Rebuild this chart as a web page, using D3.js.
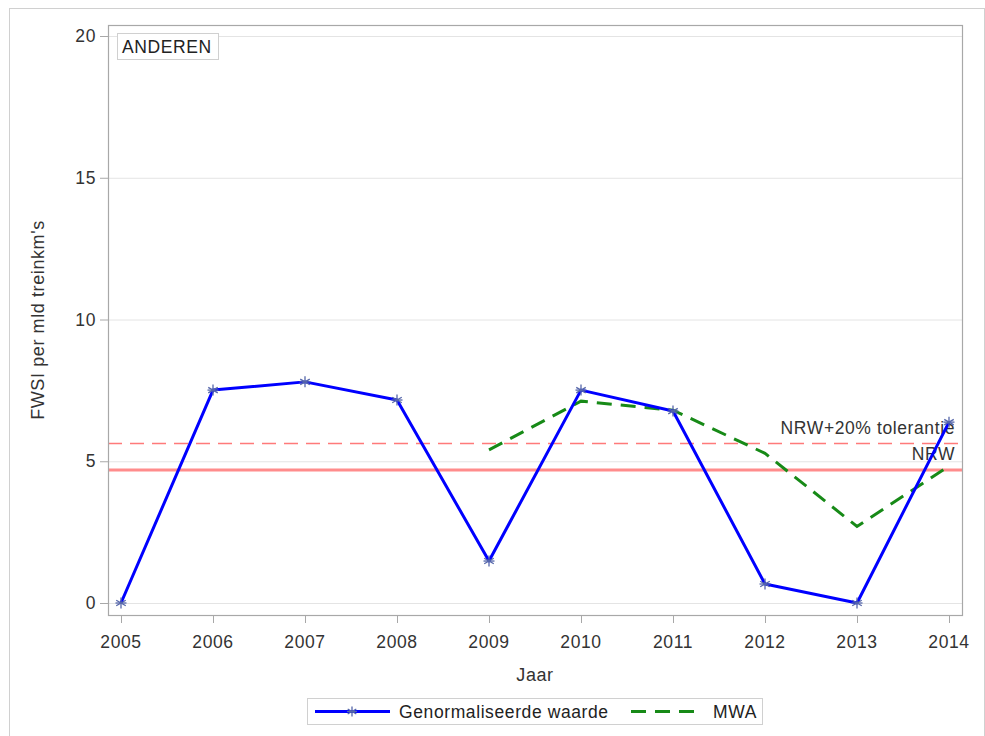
<!DOCTYPE html>
<html>
<head>
<meta charset="utf-8">
<script src="https://cdn.jsdelivr.net/npm/d3@7"></script>
<style>
  body { margin: 0; background: #fff; }
  svg { font-family: "Liberation Sans", Arial, sans-serif; letter-spacing: 0.6px; }
</style>
</head>
<body>
<div id="chart"></div>
<script>
// chart values
const years = [2005, 2006, 2007, 2008, 2009, 2010, 2011, 2012, 2013, 2014]
const normValues = [0, 7.51, 7.8, 7.16, 1.48, 7.51, 6.77, 0.67, 0, 6.38]
const mwaYears = [2009, 2010, 2011, 2012, 2013, 2014]
const mwaValues = [5.4, 7.12, 6.8, 5.28, 2.7, 4.83]
const yTicks = [0, 5, 10, 15, 20]
const nrw = 4.69
const nrwTol = 5.63
const panelLabel = "ANDEREN"

const width = 985
const height = 736
const fontSize = 17.5
const frame = {left: 108, top: 25, right: 962, bottom: 615}

const svg = d3.select('#chart').append('svg')
    .attr('width', width)
    .attr('height', height)

// outer border
svg.append('rect')
    .attr('x', 9.5).attr('y', 8.5)
    .attr('width', width - 10).attr('height', height - 8)
    .attr('fill', 'none')
    .attr('stroke', '#d0d0d0')

let x = d3.scaleLinear()
    .domain([2005, 2014])
    .range([121, 949])

let y = d3.scaleLinear()
    .domain([0, 20])
    .range([603, 36])

// gridlines
svg.append('g')
    .selectAll('line')
    .data(yTicks)
    .join('line')
        .attr('x1', frame.left).attr('x2', frame.right)
        .attr('y1', d => y(d) + 0.5).attr('y2', d => y(d) + 0.5)
        .attr('stroke', '#e4e4e4')

// reference lines
svg.append('line')
    .attr('x1', frame.left).attr('x2', frame.right)
    .attr('y1', y(nrw)).attr('y2', y(nrw))
    .attr('stroke', '#ff8c8c')
    .attr('stroke-width', 3)

svg.append('line')
    .attr('x1', frame.left).attr('x2', frame.right)
    .attr('y1', Math.round(y(nrwTol)) + 0.5).attr('y2', Math.round(y(nrwTol)) + 0.5)
    .attr('stroke', '#ff7a7a')
    .attr('stroke-width', 1.3)
    .attr('stroke-dasharray', '14,8')

svg.append('text')
    .attr('x', 955).attr('y', y(nrwTol) - 9)
    .attr('text-anchor', 'end')
    .attr('font-size', fontSize)
    .attr('fill', '#333')
    .text('NRW+20% tolerantie')

svg.append('text')
    .attr('x', 955).attr('y', y(nrw) - 10)
    .attr('text-anchor', 'end')
    .attr('font-size', fontSize)
    .attr('fill', '#333')
    .text('NRW')

// MWA dashed line
const mwaLine = d3.line()
    .x((d, i) => x(mwaYears[i]))
    .y(d => y(d))

svg.append('path')
    .datum(mwaValues)
    .attr('d', mwaLine)
    .attr('fill', 'none')
    .attr('stroke', '#178a17')
    .attr('stroke-width', 3)
    .attr('stroke-dasharray', '15,9')

// normalised values
const normLine = d3.line()
    .x((d, i) => x(years[i]))
    .y(d => y(d))

svg.append('path')
    .datum(normValues)
    .attr('d', normLine)
    .attr('fill', 'none')
    .attr('stroke', '#0000ff')
    .attr('stroke-width', 3)
    .attr('stroke-linejoin', 'round')

function drawStar(g, cx, cy, r) {
    // asterisk: three slanted strokes plus a horizontal one
    for (let a of [0, 60, 120]) {
        const rad = (a + 90) * Math.PI / 180
        g.append('line')
            .attr('x1', cx - r * Math.cos(rad)).attr('y1', cy - r * Math.sin(rad))
            .attr('x2', cx + r * Math.cos(rad)).attr('y2', cy + r * Math.sin(rad))
            .attr('stroke', '#5566aa')
            .attr('stroke-width', 1.3)
    }
    g.append('line')
        .attr('x1', cx - r).attr('y1', cy)
        .attr('x2', cx + r).attr('y2', cy)
        .attr('stroke', '#5566aa')
        .attr('stroke-width', 1.3)
}

const markers = svg.append('g')
normValues.forEach((v, i) => drawStar(markers, x(years[i]), y(v), 5.5))

// frame
svg.append('rect')
    .attr('x', frame.left + 0.5).attr('y', frame.top + 0.5)
    .attr('width', frame.right - frame.left).attr('height', frame.bottom - frame.top)
    .attr('fill', 'none')
    .attr('stroke', '#a8a8a8')
    .attr('stroke-width', 1.2)

// y axis ticks + labels
const yAxis = svg.append('g')
yAxis.selectAll('line')
    .data(yTicks)
    .join('line')
        .attr('x1', frame.left - 8).attr('x2', frame.left)
        .attr('y1', d => y(d) + 0.5).attr('y2', d => y(d) + 0.5)
        .attr('stroke', '#a8a8a8')
yAxis.selectAll('text')
    .data(yTicks)
    .join('text')
        .attr('x', frame.left - 12)
        .attr('y', d => y(d) + 6)
        .attr('text-anchor', 'end')
        .attr('font-size', fontSize)
        .attr('fill', '#333')
        .text(d => d)

// x axis ticks + labels
const xAxis = svg.append('g')
xAxis.selectAll('line')
    .data(years)
    .join('line')
        .attr('x1', d => x(d) + 0.5).attr('x2', d => x(d) + 0.5)
        .attr('y1', frame.bottom).attr('y2', frame.bottom + 8)
        .attr('stroke', '#a8a8a8')
xAxis.selectAll('text')
    .data(years)
    .join('text')
        .attr('x', d => x(d))
        .attr('y', frame.bottom + 33)
        .attr('text-anchor', 'middle')
        .attr('font-size', fontSize)
        .attr('fill', '#333')
        .text(d => d)

// axis titles
svg.append('text')
    .attr('x', (frame.left + frame.right) / 2)
    .attr('y', 681)
    .attr('text-anchor', 'middle')
    .attr('font-size', 18)
    .attr('fill', '#333')
    .text('Jaar')

svg.append('text')
    .attr('transform', 'translate(44,' + ((frame.top + frame.bottom) / 2) + ') rotate(-90)')
    .attr('text-anchor', 'middle')
    .attr('font-size', 18)
    .attr('fill', '#333')
    .text("FWSI per mld treinkm's")

// panel label
const panel = svg.append('g')
panel.append('rect')
    .attr('x', 117.5).attr('y', 33.5)
    .attr('width', 101).attr('height', 26)
    .attr('fill', '#fff')
    .attr('stroke', '#d0d0d0')
panel.append('text')
    .attr('x', 122).attr('y', 53)
    .attr('font-size', fontSize)
    .attr('fill', '#222')
    .text(panelLabel)

// legend
const legend = svg.append('g')
legend.append('rect')
    .attr('x', 307.5).attr('y', 698.5)
    .attr('width', 455).attr('height', 26)
    .attr('fill', '#fff')
    .attr('stroke', '#d0d0d0')
legend.append('line')
    .attr('x1', 315).attr('x2', 390)
    .attr('y1', 711.5).attr('y2', 711.5)
    .attr('stroke', '#0000ff')
    .attr('stroke-width', 3)
drawStar(legend, 352, 711.5, 5)
legend.append('text')
    .attr('x', 399).attr('y', 718)
    .attr('font-size', fontSize)
    .attr('fill', '#222')
    .text('Genormaliseerde waarde')
legend.append('line')
    .attr('x1', 631).attr('x2', 698)
    .attr('y1', 711.5).attr('y2', 711.5)
    .attr('stroke', '#178a17')
    .attr('stroke-width', 3)
    .attr('stroke-dasharray', '15,9')
legend.append('text')
    .attr('x', 713).attr('y', 718)
    .attr('font-size', fontSize)
    .attr('fill', '#222')
    .text('MWA')
</script>
</body>
</html>
